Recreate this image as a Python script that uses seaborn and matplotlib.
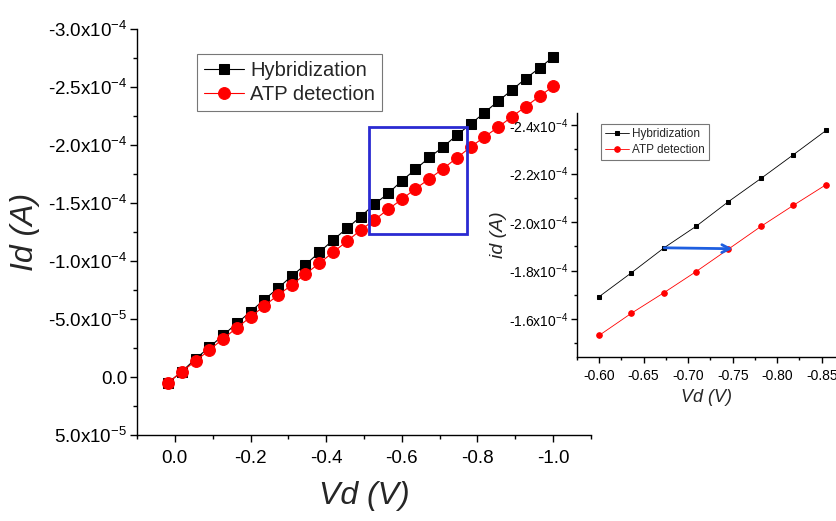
import numpy as np
import matplotlib
matplotlib.use('Agg')
import matplotlib.pyplot as plt
import matplotlib.ticker as mticker
from matplotlib.patches import Rectangle
import seaborn as sns

# drain voltage (V)
vd = [0.018, -0.018, -0.055, -0.091, -0.127, -0.164, -0.200, -0.236, -0.273, -0.309,
      -0.345, -0.382, -0.418, -0.455, -0.491, -0.527, -0.564, -0.600, -0.636, -0.673,
      -0.709, -0.745, -0.782, -0.818, -0.855, -0.891, -0.927, -0.964, -1.000]
# drain current, units of 1e-5 A
id_hyb = [0.50, -0.46, -1.58, -2.56, -3.59, -4.63, -5.63, -6.66, -7.67, -8.71,
          -9.68, -10.75, -11.81, -12.82, -13.82, -14.88, -15.83, -16.92, -17.90, -18.94,
          -19.83, -20.84, -21.81, -22.78, -23.79, -24.74, -25.72, -26.64, -27.59]
id_atp = [0.50, -0.46, -1.38, -2.33, -3.28, -4.25, -5.17, -6.12, -7.07, -7.93,
          -8.88, -9.80, -10.75, -11.70, -12.67, -13.53, -14.46, -15.32, -16.23, -17.09,
          -17.96, -18.88, -19.83, -20.69, -21.55, -22.44, -23.30, -24.20, -25.06]

labels = ['Hybridization', 'ATP detection']
# zoom box drawn on main plot (V, A)
zoom_box = (-0.512, -1.233e-4, -0.772, -2.155e-4)
# arrow in inset: ends at (V, A)
arrow_end = (-0.750, -1.890e-4)
inset_first, inset_last = 17, 24

vd = np.array(vd)
hyb = np.array(id_hyb) * 1e-5
atp = np.array(id_atp) * 1e-5

sns.set_style('ticks')
plt.rcParams['font.family'] = ['Liberation Sans', 'DejaVu Sans']
plt.rcParams['axes.unicode_minus'] = False


def sci_fmt(v, pos):
    if abs(v) < 1e-12:
        return '0.0'
    exp = int(np.floor(np.log10(abs(v))))
    mant = v / 10 ** exp
    return f'{mant:.1f}x10$\\mathregular{{^{{{exp}}}}}$'


def style_axes(ax, size):
    for s in ['top', 'right']:
        ax.spines[s].set_visible(False)
    for s in ['left', 'bottom']:
        ax.spines[s].set_color('black')
        ax.spines[s].set_linewidth(1.0)
    ax.tick_params(which='major', direction='out', length=5, width=1, colors='black',
                   labelsize=size, pad=2)
    ax.tick_params(which='minor', direction='out', length=3, width=1, colors='black')


fig = plt.figure(figsize=(8.36, 5.21), dpi=100)

# main plot
ax = fig.add_axes([0.1639, 0.165, 0.543, 0.7793])
sns.lineplot(x=vd, y=hyb, ax=ax, color='black', marker='s', markersize=7.5,
             markeredgecolor='black', linewidth=0.8, label=labels[0])
sns.lineplot(x=vd, y=atp, ax=ax, color='red', marker='o', markersize=8.5,
             markeredgecolor='red', linewidth=0.8, label=labels[1])
ax.set_xlim(0.1, -1.1)
ax.set_ylim(5e-5, -3e-4)
ax.xaxis.set_major_locator(mticker.MultipleLocator(0.2))
ax.xaxis.set_minor_locator(mticker.MultipleLocator(0.1))
ax.xaxis.set_major_formatter(mticker.FuncFormatter(lambda v, p: f'{v:.1f}' if abs(v) > 1e-9 else '0.0'))
ax.yaxis.set_major_locator(mticker.MultipleLocator(5e-5))
ax.yaxis.set_minor_locator(mticker.MultipleLocator(2.5e-5))
ax.yaxis.set_major_formatter(mticker.FuncFormatter(sci_fmt))
style_axes(ax, 13.5)
ax.tick_params(axis='x', pad=6)
ax.set_xlabel('Vd (V)', fontsize=23, style='italic', labelpad=10)
ax.set_ylabel('Id (A)', fontsize=23, style='italic', labelpad=6)
leg = ax.legend(loc='upper left', bbox_to_anchor=(0.132, 0.938), borderaxespad=0,
                fontsize=14.5, frameon=True, fancybox=False, handlelength=2.0,
                handletextpad=0.3, borderpad=0.35, labelspacing=0.25)
leg.get_frame().set_edgecolor('#555555')
leg.get_frame().set_linewidth(0.8)

x0, y0, x1, y1 = zoom_box
ax.add_patch(Rectangle((x0, y0), x1 - x0, y1 - y0, fill=False,
                       edgecolor='#2a2ad2', linewidth=2.0, zorder=5))

# inset
sl = slice(inset_first, inset_last + 1)
ax_in = fig.add_axes([0.690, 0.3148, 0.31, 0.468])
sns.lineplot(x=vd[sl], y=hyb[sl], ax=ax_in, color='black', marker='s', markersize=3.5,
             markeredgecolor='black', linewidth=0.6, label=labels[0])
sns.lineplot(x=vd[sl], y=atp[sl], ax=ax_in, color='red', marker='o', markersize=4,
             markeredgecolor='red', linewidth=0.6, label=labels[1])
ax_in.set_xlim(-0.575, -0.866)
ax_in.set_ylim(-1.443e-4, -2.45e-4)
ax_in.xaxis.set_major_locator(mticker.MultipleLocator(0.05))
ax_in.xaxis.set_minor_locator(mticker.MultipleLocator(0.025))
ax_in.xaxis.set_major_formatter(mticker.FuncFormatter(lambda v, p: f'{v:.2f}'))
ax_in.yaxis.set_major_locator(mticker.MultipleLocator(2e-5))
ax_in.yaxis.set_minor_locator(mticker.MultipleLocator(1e-5))
ax_in.yaxis.set_major_formatter(mticker.FuncFormatter(sci_fmt))
style_axes(ax_in, 10)
ax_in.tick_params(which='major', length=4)
ax_in.tick_params(which='minor', length=2)
ax_in.tick_params(axis='x', pad=5)
ax_in.set_xlabel('Vd (V)', fontsize=13, style='italic', labelpad=4)
ax_in.set_ylabel('id (A)', fontsize=14, style='italic', labelpad=2)
leg2 = ax_in.legend(loc='upper left', bbox_to_anchor=(0.093, 0.955), borderaxespad=0,
                    fontsize=8.5, frameon=True, fancybox=False, handlelength=2.0,
                    handletextpad=0.3, borderpad=0.35, labelspacing=0.3)
leg2.get_frame().set_edgecolor('#555555')
leg2.get_frame().set_linewidth(0.8)

ax_in.annotate('', xy=arrow_end, xytext=(vd[19], hyb[19]),
               arrowprops=dict(arrowstyle='->', color='#1f5fe0', lw=2.0,
                               shrinkA=0, shrinkB=0, mutation_scale=14))

fig.savefig('out.png', dpi=100)
